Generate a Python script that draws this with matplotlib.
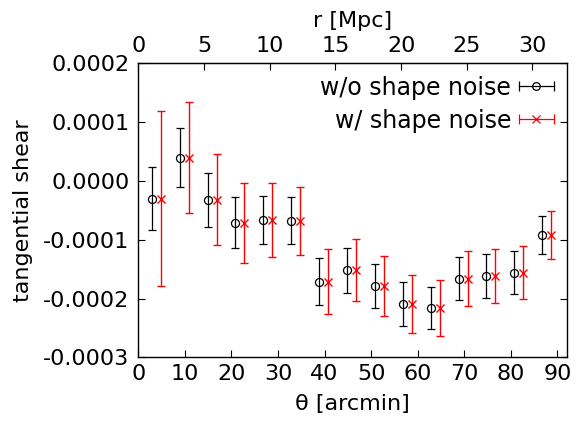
import matplotlib
matplotlib.use("Agg")
import matplotlib.pyplot as plt
from matplotlib.lines import Line2D
from matplotlib.legend_handler import HandlerLine2D, HandlerTuple

plt.rcParams['font.family'] = ['DejaVu Sans']
plt.rcParams['axes.unicode_minus'] = False
plt.rcParams['font.size'] = 16

# bin centres (arcmin); the shape-noise points are drawn shifted by +2 arcmin
theta = [2.85, 8.86, 14.87, 20.8, 26.7, 32.8, 38.75, 44.8, 50.8, 56.8,
         62.85, 68.8, 74.7, 80.7, 86.7]
theta_shift = 2.0

# tangential shear in units of 1e-4
gamma_t = [-0.30, 0.397, -0.32, -0.71, -0.668, -0.677, -1.718, -1.522, -1.787,
           -2.098, -2.165, -1.661, -1.621, -1.559, -0.924]
err_noiseless = [0.535, 0.494, 0.459, 0.437, 0.411, 0.40, 0.40, 0.386, 0.38,
                 0.372, 0.36, 0.363, 0.371, 0.372, 0.326]
err_noise = [1.488, 0.944, 0.774, 0.678, 0.624, 0.58, 0.554, 0.528, 0.508,
             0.49, 0.476, 0.465, 0.463, 0.457, 0.41]

mpc_per_arcmin = 0.3544

scale = 1e-4
y = [v * scale for v in gamma_t]
e0 = [v * scale for v in err_noiseless]
e1 = [v * scale for v in err_noise]
theta_red = [t + theta_shift for t in theta]

fig = plt.figure(figsize=(5.77, 4.23), dpi=100)
ax = fig.add_axes([0.2397, 0.1553, 0.9821 - 0.2397, 0.8504 - 0.1553])

ax.errorbar(theta, y, yerr=e0, fmt='o', color='black', mfc='none',
            ms=5.8, mew=0.9, elinewidth=0.9, capsize=3, capthick=0.9)
ax.errorbar(theta_red, y, yerr=e1, fmt='x', color='red',
            ms=5.8, mew=1.0, elinewidth=1.0, capsize=3, capthick=1.0)

ax.set_xlim(0, 92)
ax.set_ylim(-0.0003, 0.0002)
ax.set_xticks(range(0, 91, 10))
yt = [-0.0003, -0.0002, -0.0001, 0.0, 0.0001, 0.0002]
ax.set_yticks(yt)
ax.set_yticklabels(['%.4f' % v for v in yt])
ax.tick_params(direction='in', length=5, width=0.8, right=True, pad=6.5)
ax.tick_params(axis='x', pad=5)
for s in ax.spines.values():
    s.set_linewidth(1.0)

ax.set_xlabel('θ [arcmin]', labelpad=7)
ax.set_ylabel('tangential shear', labelpad=7)

top = ax.secondary_xaxis('top', functions=(lambda t: t * mpc_per_arcmin,
                                           lambda r: r / mpc_per_arcmin))
top.set_xticks(range(0, 31, 5))
top.tick_params(direction='in', length=5, width=0.8, pad=5)
top.set_xlabel('r [Mpc]', labelpad=7)

# gnuplot-style legend keys: horizontal bar with caps plus the point symbol
def key(color, marker):
    bar = Line2D([], [], color=color, lw=0.9, marker='|', ms=7, mew=0.9)
    pt = Line2D([], [], color=color, linestyle='none', marker=marker,
                mfc='none', ms=5.5, mew=0.9)
    return (bar, pt)

k0 = key('black', 'o')
k1 = key('red', 'x')
hm = {k0[0]: HandlerLine2D(numpoints=2, marker_pad=0),
      k1[0]: HandlerLine2D(numpoints=2, marker_pad=0),
      tuple: HandlerTuple(ndivide=1)}
ax.legend([k0, k1], ['w/o shape noise', 'w/ shape noise'], handler_map=hm,
          loc='upper right', frameon=False, markerfirst=False, fontsize=17,
          handlelength=1.48, handletextpad=0.32, labelspacing=0.38,
          borderaxespad=0.0, borderpad=0.0, bbox_to_anchor=(0.970, 0.958))

fig.savefig('out.png', dpi=100)
